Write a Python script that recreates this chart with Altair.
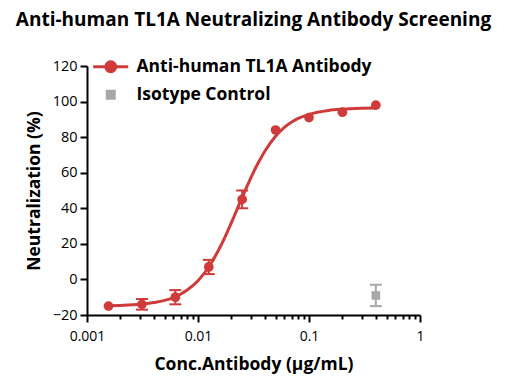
import altair as alt
import pandas as pd

series = ["Anti-human TL1A Antibody", "Isotype Control"]
colors = ["#cf3b3b", "#a8a8a8"]

conc = [0.0015625, 0.003125, 0.00625, 0.0125, 0.025, 0.05, 0.1, 0.2, 0.4]
neut = [-15, -14, -10, 7, 45, 84, 91, 94, 98]
neut_err = [0, 3, 4, 4, 5, 0, 0, 0, 0]

iso_conc = [0.4]
iso_neut = [-9]
iso_err = [6]

curve_x = [0.0015625, 0.002, 0.003, 0.004, 0.005, 0.006, 0.008, 0.01, 0.0125, 0.015,
           0.0175, 0.02, 0.025, 0.03, 0.035, 0.04, 0.05, 0.06, 0.07, 0.08, 0.1, 0.15,
           0.2, 0.3, 0.4]
curve_y = [-14.8, -14.6, -14.0, -13.0, -11.8, -10.2, -5.9, -0.7, 7.0, 15.4,
           23.8, 31.9, 46.1, 57.3, 65.7, 72.1, 80.5, 85.5, 88.5, 90.5, 92.8, 95.0,
           95.7, 96.2, 96.4]

x_ticks = [0.001, 0.002, 0.003, 0.004, 0.005, 0.006, 0.007, 0.008, 0.009,
           0.01, 0.02, 0.03, 0.04, 0.05, 0.06, 0.07, 0.08, 0.09,
           0.1, 0.2, 0.3, 0.4, 0.5, 0.6, 0.7, 0.8, 0.9, 1]
y_ticks = [-20, 0, 20, 40, 60, 80, 100, 120]

ab = pd.DataFrame({"x": conc, "y": neut, "err": neut_err, "s": series[0]})
iso = pd.DataFrame({"x": iso_conc, "y": iso_neut, "err": iso_err, "s": series[1]})
pts = pd.concat([ab, iso], ignore_index=True)
pts["lo"] = pts["y"] - pts["err"]
pts["hi"] = pts["y"] + pts["err"]
errs = pts[pts["err"] > 0]

curve = pd.DataFrame({"x": curve_x, "y": curve_y, "s": series[0]})

FONT = "Open Sans"
major_test = "indexof([0.001,0.01,0.1,1], datum.value) >= 0"

xscale = alt.Scale(type="log", domain=[0.001, 1], nice=False)
yscale = alt.Scale(domain=[-20, 120], nice=False, zero=False)
cscale = alt.Scale(domain=series, range=colors)

xaxis = alt.Axis(
    values=x_ticks, tickCount=100,
    labelExpr=major_test + " ? format(datum.value, '~g') : ''",
    tickSize={"condition": {"test": major_test, "value": 7}, "value": 4},
    title="Conc.Antibody (µg/mL)", labelOverlap=False,
    grid=False, domainColor="black", domainWidth=2, tickColor="black", tickWidth=2,
    labelFont=FONT, labelFontSize=14, labelColor="black", labelPadding=7,
    titleFont=FONT, titleFontSize=17.5, titleFontWeight="bold", titleColor="black",
    titlePadding=12, labelFlush=False,
)
yaxis = alt.Axis(
    values=y_ticks, tickCount=100, title="Neutralization (%)", labelOverlap=False,
    grid=False, domainColor="black", domainWidth=2, tickColor="black", tickWidth=2,
    tickSize=7, labelFont=FONT, labelFontSize=14.5, labelColor="black", labelPadding=3,
    titleFont=FONT, titleFontSize=17.5, titleFontWeight="bold", titleColor="black",
    titlePadding=9,
)

col = alt.Color("s:N", scale=cscale)

line = alt.Chart(curve).mark_line(strokeWidth=3, interpolate="monotone", opacity=1).encode(
    x=alt.X("x:Q", scale=xscale, axis=xaxis),
    y=alt.Y("y:Q", scale=yscale, axis=yaxis),
    color=col,
)

rules = alt.Chart(errs).mark_rule(strokeWidth=2, opacity=1).encode(
    x="x:Q", y="lo:Q", y2="hi:Q", color=col,
)
cap_lo = alt.Chart(errs).mark_tick(thickness=2, size=12, orient="horizontal", opacity=1).encode(
    x="x:Q", y="lo:Q", color=col,
)
cap_hi = alt.Chart(errs).mark_tick(thickness=2, size=12, orient="horizontal", opacity=1).encode(
    x="x:Q", y="hi:Q", color=col,
)

ab_points = alt.Chart(ab).mark_circle(size=95, opacity=1).encode(
    x="x:Q", y="y:Q", color=col,
)
iso_points = alt.Chart(iso).mark_square(size=75, opacity=1).encode(
    x="x:Q", y="y:Q", color=col,
)

legend_path = "M-3.5,0L3.5,0M1,0A1,1,0,1,1,-1,0A1,1,0,1,1,1,0Z"
square_path = "M-0.7,-0.7L0.7,-0.7L0.7,0.7L-0.7,0.7Z"
legend = alt.Legend(
    title=None, orient="none", legendX=15, legendY=-8, padding=0,
    labelFont=FONT, labelFontSize=17.5, labelFontWeight="bold", labelColor="black",
    labelOffset=17, rowPadding=7, symbolSize=100, symbolOpacity=1,
    symbolStrokeWidth=3, labelLimit=400,
)
legend_layer = alt.Chart(pts).mark_point(filled=True, opacity=1, size=0, strokeWidth=3).encode(
    x="x:Q", y="y:Q",
    color=alt.Color("s:N", scale=cscale, legend=legend),
    stroke=alt.Stroke("s:N", scale=cscale, legend=legend),
    shape=alt.Shape("s:N", scale=alt.Scale(domain=series, range=[legend_path, square_path]), legend=legend),
)

chart = alt.layer(legend_layer, line, rules, cap_lo, cap_hi, ab_points, iso_points).properties(
    width=333, height=249,
    title=alt.TitleParams(
        "Anti-human TL1A Neutralizing Antibody Screening",
        font=FONT, fontSize=19, fontWeight="bold", color="black",
        anchor="middle", offset=28,
    ),
    autosize=alt.AutoSizeParams(type="none"),
    padding={"left": 79, "top": 58, "right": 77, "bottom": 61},
).configure_view(stroke=None).configure_tick(opacity=1).configure_point(opacity=1)

chart.save("out.html", embed_options={"renderer": "svg", "actions": False})
